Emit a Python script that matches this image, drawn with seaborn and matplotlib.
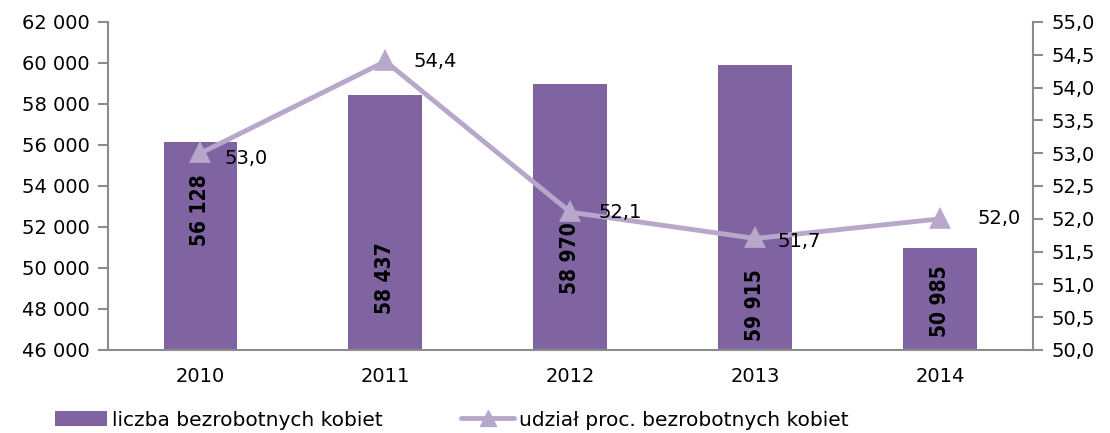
import seaborn as sns
import pandas as pd
import matplotlib.pyplot as plt
from matplotlib import font_manager
from matplotlib.patches import Patch
from matplotlib.lines import Line2D
from matplotlib.ticker import FuncFormatter, MultipleLocator

years = ["2010", "2011", "2012", "2013", "2014"]
women_count = [56128, 58437, 58970, 59915, 50985]
women_share = [53.0, 54.4, 52.1, 51.7, 52.0]
count_labels = ["56 128", "58 437", "58 970", "59 915", "50 985"]
share_labels = ["53,0", "54,4", "52,1", "51,7", "52,0"]
# where the rotated count labels sit (left-axis units)
count_label_y = [52800, 49500, 50500, 48200, 48400]

bar_color = "#8064A2"
line_color = "#B7A8CB"
axis_gray = "#8C8C8C"

sns.set_style("white")
plt.rcParams["font.family"] = ["DejaVu Sans"]

names = {f.name for f in font_manager.fontManager.ttflist}
if "Liberation Sans Narrow" in names:
    label_family = "Liberation Sans Narrow"
    label_size = 17
else:
    label_family = "DejaVu Sans"
    label_size = 15

df = pd.DataFrame({"rok": years, "liczba": women_count, "udzial": women_share})

fig = plt.figure(figsize=(11.1, 4.33), dpi=100)
ax = fig.add_axes([0.0973, 0.1917, 0.8333, 0.7575])

sns.barplot(data=df, x="rok", y="liczba", ax=ax, color=bar_color,
            width=0.4, saturation=1, edgecolor="none")
ax.set_ylim(46000, 62000)
ax.yaxis.set_major_locator(MultipleLocator(2000))
ax.yaxis.set_major_formatter(FuncFormatter(lambda v, p: f"{int(v):,}".replace(",", " ")))
ax.set_xlabel("")
ax.set_ylabel("")

for i, (lab, yy) in enumerate(zip(count_labels, count_label_y)):
    ax.text(i, yy, lab, rotation=90, ha="center", va="center", fontsize=label_size,
            fontweight="bold", fontstretch="condensed", color="black",
            family=[label_family, "DejaVu Sans"])

ax2 = ax.twinx()
sns.pointplot(data=df, x="rok", y="udzial", ax=ax2, color=line_color,
              markers="^", markersize=11, linewidth=3.5)
ax2.set_ylim(50, 55)
ax2.yaxis.set_major_locator(MultipleLocator(0.5))
ax2.yaxis.set_major_formatter(FuncFormatter(lambda v, p: f"{v:.1f}".replace(".", ",")))
ax2.set_ylabel("")
ax2.set_xlabel("")

offsets = [(0.13, -0.08), (0.15, 0.0), (0.15, 0.0), (0.12, -0.05), (0.2, 0.0)]
for i, (lab, v) in enumerate(zip(share_labels, women_share)):
    dx, dy = offsets[i]
    ax2.text(i + dx, v + dy, lab, ha="left", va="center", fontsize=14, color="black")

ax.set_xlim(-0.5, 4.5)
ax2.set_xlim(-0.5, 4.5)

# x ticks between categories
ax.set_xticks([-0.5, 0.5, 1.5, 2.5, 3.5, 4.5], minor=False)
ax.set_xticklabels([])
ax.set_xticks(range(len(years)), minor=True)
ax.set_xticklabels(years, minor=True)
ax.tick_params(axis="x", which="minor", length=0, pad=12, labelsize=14, labelcolor="black")
ax.tick_params(axis="x", which="major", length=7, color=axis_gray, width=1.5, direction="out")
ax.tick_params(axis="y", length=7, color=axis_gray, width=1.5, direction="out",
               labelsize=14, pad=6, labelcolor="black")
ax2.tick_params(axis="y", length=7, color=axis_gray, width=1.5, direction="out",
                labelsize=14, pad=6, labelcolor="black")

for a in (ax, ax2):
    a.spines["top"].set_visible(False)
    for s in ("left", "right", "bottom"):
        a.spines[s].set_color(axis_gray)
        a.spines[s].set_linewidth(1.5)
ax.spines["right"].set_visible(False)
ax2.spines["left"].set_visible(False)
ax2.spines["bottom"].set_visible(False)

handles = [Patch(facecolor=bar_color, edgecolor="none"),
           Line2D([], [], color=line_color, lw=3.5, marker="^", markersize=11)]
fig.legend(handles, ["liczba bezrobotnych kobiet", "udział proc. bezrobotnych kobiet"],
           loc="center left", bbox_to_anchor=(0.033, 0.03), ncol=2, frameon=False,
           fontsize=14.5, handlelength=2.6, handletextpad=0.25, columnspacing=3.9,
           labelcolor="black")

fig.savefig("out.png", dpi=100)
